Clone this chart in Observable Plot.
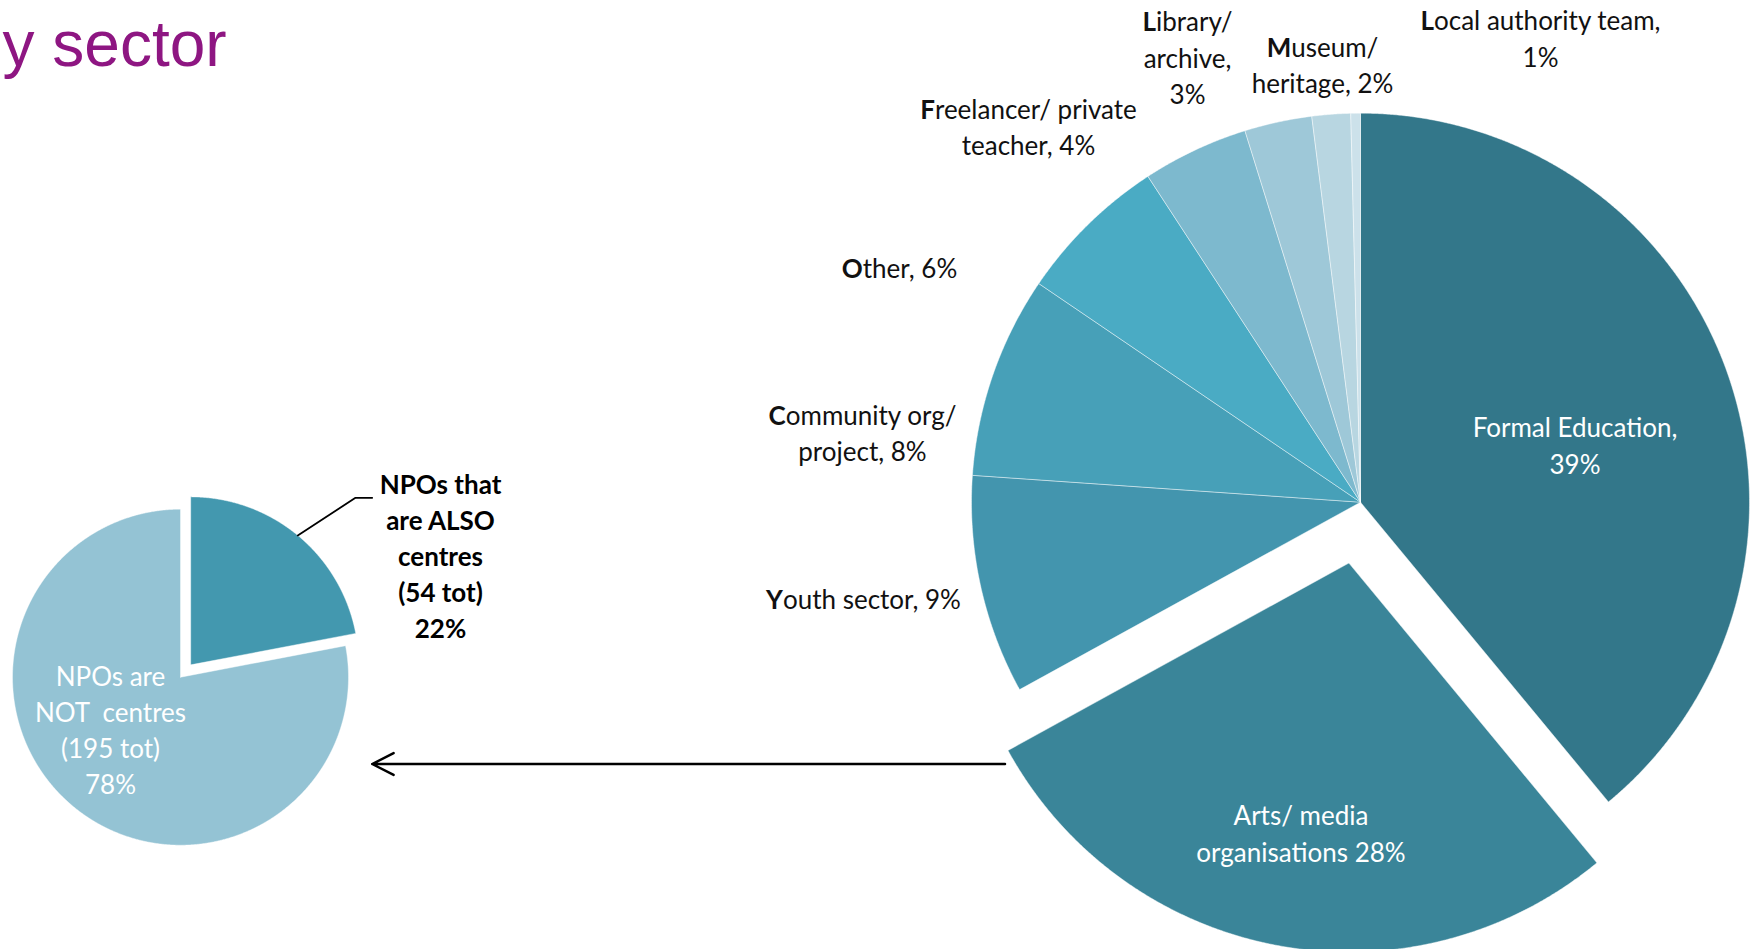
<!DOCTYPE html>
<html>
<head>
<meta charset="utf-8">
<script src="https://cdn.jsdelivr.net/npm/d3@7"></script>
<script src="https://cdn.jsdelivr.net/npm/@observablehq/plot@0.6"></script>
<style>
  html, body { margin: 0; padding: 0; background: #ffffff; }
  svg text { white-space: pre; }
</style>
</head>
<body>
<div id="chart"></div>
<script>
// ---------- DATA ----------
const titleText = "y sector";

const sectors = [
  "Formal Education", "Arts/ media organisations", "Youth sector",
  "Community org/ project", "Other", "Freelancer/ private teacher",
  "Library/ archive", "Museum/ heritage", "Local authority team"
];
const sectorShares = [39.0, 28.0, 9.1, 8.4, 6.3, 4.4, 2.8, 1.6, 0.4];
const sectorLabels = [
  "Formal Education,\n39%", "Arts/ media\norganisations 28%", "Youth sector, 9%",
  "Community org/\nproject, 8%", "Other, 6%", "Freelancer/ private\nteacher, 4%",
  "Library/\narchive,\n3%", "Museum/\nheritage, 2%", "Local authority team,\n1%"
];

const npoGroups = ["NPOs that are ALSO centres", "NPOs are NOT centres"];
const npoCounts = [54, 195];
const npoShares = [22, 78];
const npoLabels = ["NPOs that\nare ALSO\ncentres\n(54 tot)\n22%", "NPOs are\nNOT  centres\n(195 tot)\n78%"];

// ---------- STYLE / LAYOUT ----------
const W = 1754, H = 949;
const sectorColors = ["#33778a", "#3a8599", "#4395ae", "#47a0b8", "#4aabc4", "#7db9ce", "#9ec8d8", "#b8d6e1", "#cce1ea"];
const npoColors = ["#4398af", "#94c3d4"];
const bigPie = {cx: 1360, cy: 501.7, r: 389, explode: [0, 62, 0, 0, 0, 0, 0, 0, 0]};
const smallPie = {cx: 180, cy: 676.7, r: 168, explode: [16, 0]};
// label anchor positions (pixel layout, manually placed as in the original)
const sectorLabelPos = [[1574.5, 443.4], [1300.5, 831.2], [863, 596.5], [862, 430.9], [899, 265.5],
                        [1028, 124.9], [1187, 55.4], [1322, 62.7], [1540, 36.5]];
const npoLabelPos = [[440, 554.2], [110, 727.7]];
const insideSector = [true, true, false, false, false, false, false, false, false];

// ---------- GEOMETRY FROM DATA ----------
function pieGeometry(values, names, layout) {
  const arcs = d3.pie().sort(null).value(d => d)(values);
  const pts = [];
  const info = [];
  arcs.forEach((a, i) => {
    const mid = (a.startAngle + a.endAngle) / 2;
    const e = layout.explode[i];
    const ox = layout.cx + e * Math.sin(mid), oy = layout.cy - e * Math.cos(mid);
    const key = names[i];
    pts.push({key, x: ox, y: oy});
    const n = Math.max(2, Math.ceil((a.endAngle - a.startAngle) / (Math.PI / 720)));
    for (let k = 0; k <= n; k++) {
      const t = a.startAngle + (a.endAngle - a.startAngle) * k / n;
      pts.push({key, x: ox + layout.r * Math.sin(t), y: oy - layout.r * Math.cos(t)});
    }
    pts.push({key, x: ox, y: oy});
    info.push({key, mid, ox, oy,
      arcMid: [ox + layout.r * Math.sin(mid), oy - layout.r * Math.cos(mid)]});
  });
  return {pts, info};
}

const big = pieGeometry(sectorShares, sectors, bigPie);
const small = pieGeometry(npoShares, npoGroups, smallPie);

const sectorText = sectors.map((s, i) => ({
  key: s, text: sectorLabels[i], x: sectorLabelPos[i][0], y: sectorLabelPos[i][1], inside: insideSector[i]
}));
const npoText = npoGroups.map((g, i) => ({
  key: g, text: npoLabels[i], x: npoLabelPos[i][0], y: npoLabelPos[i][1], count: npoCounts[i]
}));

// leader line from the exploded slice to its label
const also = small.info[0];
const leader = [
  {x: also.arcMid[0], y: also.arcMid[1]},
  {x: npoLabelPos[0][0] - 85, y: 497.3},
  {x: npoLabelPos[0][0] - 68.3, y: 497.3}
];

// arrow from the Arts slice to the small pie
const arrowData = [{
  x1: 1004.5, y1: 763.5,
  x2: smallPie.cx + smallPie.r + 23.7, y2: 763.5
}];

const plot = Plot.plot({
  width: W,
  height: H,
  margin: 0,
  x: {domain: [0, W], range: [0, W], axis: null},
  y: {domain: [0, H], range: [0, H], axis: null},
  color: {domain: [...sectors, ...npoGroups], range: [...sectorColors, ...npoColors]},
  style: {fontFamily: "Lato, 'Open Sans', sans-serif", fontSize: "26px", background: "#ffffff", color: "#000"},
  marks: [
    Plot.line(big.pts, {x: "x", y: "y", z: "key", fill: "key", stroke: "#ffffff",
      strokeWidth: 0.8, strokeOpacity: 0.55, curve: "linear"}),
    Plot.line(small.pts, {x: "x", y: "y", z: "key", fill: "key", stroke: "#ffffff",
      strokeWidth: 0.8, strokeOpacity: 0.55, curve: "linear"}),
    Plot.line(leader, {x: "x", y: "y", stroke: "#000", strokeWidth: 1.8, curve: "linear"}),
    Plot.arrow(arrowData, {x1: "x1", y1: "y1", x2: "x2", y2: "y2", stroke: "#000",
      strokeWidth: 2.5, headLength: 14.4, headAngle: 54}),
    Plot.text(sectorText.filter(d => !d.inside), {x: "x", y: "y", text: "text", fill: "#111",
      fontSize: 26, lineHeight: 1.41, textAnchor: "middle"}),
    Plot.text(sectorText.filter(d => d.inside), {x: "x", y: "y", text: "text", fill: "#ffffff",
      fontSize: 26, lineHeight: 1.42, textAnchor: "middle"}),
    Plot.text(npoText.slice(0, 1), {x: "x", y: "y", text: "text", fill: "#000",
      fontSize: 26, fontWeight: "bold", lineHeight: 1.38, textAnchor: "middle"}),
    Plot.text(npoText.slice(1), {x: "x", y: "y", text: "text", fill: "#ffffff",
      fontSize: 26, lineHeight: 1.39, textAnchor: "middle"}),
    Plot.text([titleText], {x: 2, y: 45, text: d => d, textAnchor: "start", fill: "#8e1682",
      fontFamily: "'Liberation Sans', Arial, sans-serif", fontSize: 64})
  ]
});

// bold initial letter on the outside sector labels, as in the original
const outsideSet = new Set(sectorText.filter(d => !d.inside).map(d => d.text.replace(/\n/g, "")));
plot.querySelectorAll("text").forEach(el => {
  if (!outsideSet.has(el.textContent)) return;
  const first = el.querySelector("tspan") || el;
  const node = Array.from(first.childNodes).find(n => n.nodeType === 3);
  if (!node) return;
  const s = node.nodeValue;
  const b = document.createElementNS("http://www.w3.org/2000/svg", "tspan");
  b.setAttribute("font-weight", "bold");
  b.textContent = s[0];
  node.nodeValue = s.slice(1);
  first.insertBefore(b, node);
});

document.getElementById("chart").appendChild(plot);
</script>
</body>
</html>
